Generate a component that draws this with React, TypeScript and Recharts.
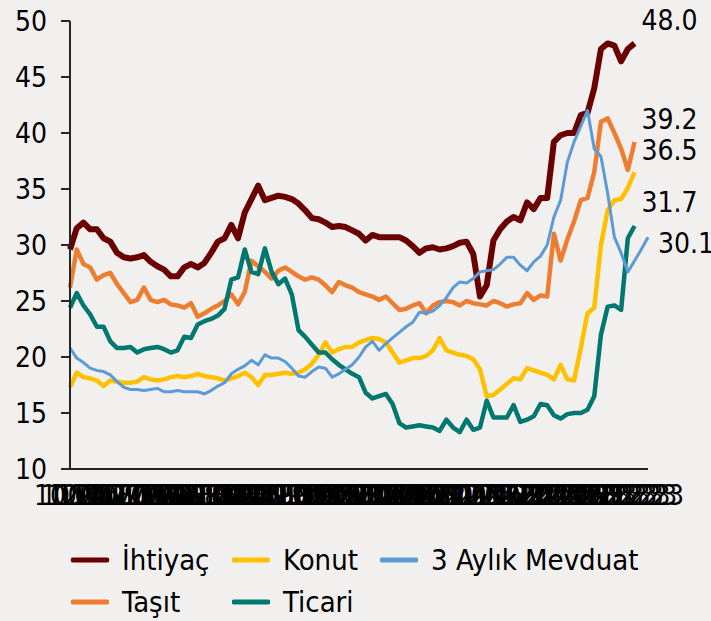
import { LineChart, Line, XAxis, YAxis, Legend, LabelList } from 'recharts';

const months = [
  '10.16', '11.16', '12.16',
  '01.17', '02.17', '03.17', '04.17', '05.17', '06.17', '07.17', '08.17', '09.17', '10.17', '11.17', '12.17',
  '01.18', '02.18', '03.18', '04.18', '05.18', '06.18', '07.18', '08.18', '09.18', '10.18', '11.18', '12.18',
  '01.19', '02.19', '03.19', '04.19', '05.19', '06.19', '07.19', '08.19', '09.19', '10.19', '11.19', '12.19',
  '01.20', '02.20', '03.20', '04.20', '05.20', '06.20', '07.20', '08.20', '09.20', '10.20', '11.20', '12.20',
  '01.21', '02.21', '03.21', '04.21', '05.21', '06.21', '07.21', '08.21', '09.21', '10.21', '11.21', '12.21',
  '01.22', '02.22', '03.22', '04.22', '05.22', '06.22', '07.22', '08.22', '09.22', '10.22', '11.22', '12.22',
  '01.23', '02.23', '03.23', '04.23', '05.23', '06.23', '07.23', '08.23', '09.23', '10.23', '11.23', '12.23',
];

const ihtiyac = [
  29.6, 31.5, 32.0, 31.4, 31.4, 30.6, 30.3, 29.3, 28.9, 28.8,
  28.9, 29.1, 28.5, 28.1, 27.8, 27.2, 27.2, 28.0, 28.3, 28.0,
  28.4, 29.3, 30.3, 30.6, 31.8, 30.6, 32.9, 34.1, 35.3, 34.0,
  34.2, 34.4, 34.3, 34.1, 33.7, 33.1, 32.4, 32.3, 32.0, 31.6,
  31.7, 31.6, 31.3, 31.0, 30.4, 30.9, 30.7, 30.7, 30.7, 30.7,
  30.4, 29.9, 29.3, 29.7, 29.8, 29.6, 29.7, 29.9, 30.2, 30.3,
  29.2, 25.4, 26.4, 30.4, 31.4, 32.1, 32.5, 32.2, 33.8, 33.2,
  34.2, 34.2, 39.2, 39.8, 40.0, 40.0, 41.6, 41.8, 44.0, 47.5,
  48.0, 47.8, 46.4, 47.5, 48.0,
];

const tasit = [
  26.2, 29.6, 28.3, 28.0, 26.9, 27.3, 27.5, 26.5, 25.7, 24.9,
  25.1, 26.2, 25.1, 24.9, 25.1, 24.7, 24.6, 24.4, 24.8, 23.6,
  23.9, 24.3, 24.6, 25.0, 25.6, 24.7, 25.8, 28.6, 28.1, 27.6,
  27.0, 27.7, 28.0, 27.6, 27.2, 26.9, 27.1, 26.9, 26.4, 25.8,
  26.7, 26.4, 26.2, 25.8, 25.6, 25.4, 25.1, 25.4, 24.8, 24.2,
  24.3, 24.6, 24.8, 23.9, 24.6, 24.9, 25.0, 24.9, 24.6, 25.0,
  24.8, 24.7, 24.6, 25.0, 24.8, 24.5, 24.7, 24.8, 25.7, 25.1,
  25.5, 25.4, 31.0, 28.6, 30.5, 32.1, 34.0, 34.2, 36.5, 41.0,
  41.3, 40.0, 38.6, 36.7, 39.2,
];

const konut = [
  17.3, 18.6, 18.2, 18.1, 17.9, 17.4, 17.9, 17.8, 17.7, 17.7,
  17.8, 18.2, 18.0, 17.9, 18.0, 18.2, 18.3, 18.2, 18.3, 18.5,
  18.3, 18.2, 18.1, 17.9, 18.1, 18.3, 18.6, 18.2, 17.5, 18.4,
  18.4, 18.5, 18.6, 18.5, 18.6, 18.9, 19.4, 20.2, 21.3, 20.4,
  20.7, 20.9, 20.9, 21.3, 21.5, 21.7, 21.6, 21.3, 20.4, 19.5,
  19.7, 19.9, 19.9, 20.1, 20.6, 21.7, 20.6, 20.4, 20.2, 20.1,
  19.8, 18.9, 16.5, 16.6, 17.1, 17.6, 18.1, 18.0, 19.0, 18.8,
  18.6, 18.4, 18.0, 19.3, 18.0, 17.9, 20.8, 23.9, 24.4, 30.0,
  33.1, 34.0, 34.1, 35.1, 36.5,
];

const ticari = [
  24.4, 25.7, 24.6, 23.8, 22.7, 22.7, 21.4, 20.8, 20.8, 20.9,
  20.4, 20.7, 20.8, 20.9, 20.7, 20.4, 20.6, 21.8, 21.7, 22.9,
  23.2, 23.4, 23.7, 24.3, 26.9, 27.1, 29.6, 27.6, 27.4, 29.7,
  27.6, 26.5, 27.0, 25.6, 22.4, 21.8, 21.1, 20.4, 20.4, 19.8,
  19.3, 18.9, 18.5, 18.2, 16.8, 16.3, 16.5, 16.7, 15.8, 14.1,
  13.7, 13.8, 13.9, 13.8, 13.7, 13.4, 14.4, 13.7, 13.3, 14.4,
  13.5, 13.7, 16.1, 14.6, 14.6, 14.6, 15.7, 14.2, 14.4, 14.7,
  15.8, 15.7, 14.8, 14.5, 14.9, 15.0, 15.0, 15.3, 16.5, 22.0,
  24.5, 24.6, 24.2, 30.6, 31.7,
];

const mevduat = [
  20.8, 19.9, 19.5, 19.0, 18.8, 18.7, 18.4, 17.8, 17.3, 17.1,
  17.1, 17.0, 17.1, 17.2, 16.9, 16.9, 17.0, 16.9, 16.9, 16.9,
  16.7, 17.0, 17.4, 17.7, 18.5, 18.9, 19.2, 19.7, 19.3, 20.2,
  19.9, 19.9, 19.6, 19.0, 18.3, 18.2, 18.7, 19.1, 19.0, 18.2,
  18.5, 18.9, 19.3, 20.0, 20.9, 21.4, 20.6, 21.2, 21.7, 22.2,
  22.7, 23.1, 24.0, 23.9, 24.1, 24.6, 25.3, 26.2, 26.7, 26.6,
  27.0, 27.6, 27.7, 27.8, 28.3, 28.9, 28.9, 28.2, 27.7, 28.5,
  29.0, 30.0, 32.5, 34.0, 37.4, 39.2, 40.6, 42.0, 38.6, 37.9,
  34.6, 30.7, 29.3, 27.6, 28.6, 29.6, 30.7,
];

const endLabels = ['48.0', '39.2', '36.5', '31.7', '30.1'];
const yTicks = [10, 15, 20, 25, 30, 35, 40, 45, 50];

const data = months.map((month, i) => ({
  month,
  ihtiyac: ihtiyac[i],
  tasit: tasit[i],
  konut: konut[i],
  ticari: ticari[i],
  mevduat: mevduat[i],
}));

const font = "'DejaVu Sans Condensed', 'DejaVu Sans', sans-serif";

// order here = legend order (column by column) and draw order
const series = [
  { key: 'ihtiyac', name: 'İhtiyaç', color: '#6B0000', width: 6, last: ihtiyac.length - 1, label: endLabels[0], dx: 7, dy: -23 },
  { key: 'tasit', name: 'Taşıt', color: '#ED7D31', width: 4.5, last: tasit.length - 1, label: endLabels[1], dx: 7, dy: -22 },
  { key: 'konut', name: 'Konut', color: '#FFC000', width: 4.5, last: konut.length - 1, label: endLabels[2], dx: 7, dy: -22 },
  { key: 'ticari', name: 'Ticari', color: '#00776F', width: 4.5, last: ticari.length - 1, label: endLabels[3], dx: 7, dy: -23 },
  { key: 'mevduat', name: '3 Aylık Mevduat', color: '#5B9BD5', width: 3, last: mevduat.length - 1, label: endLabels[4], dx: 10, dy: 6 },
];

const legendCols = [71, 232, 380];
const legendRows = [30, 72];

function LegendBox() {
  return (
    <div style={{ position: 'relative', width: 711, height: 90, fontFamily: font, fontSize: 29 }}>
      {series.map((s, i) => {
        const left = legendCols[Math.floor(i / 2)];
        const top = legendRows[i % 2];
        return (
          <div key={s.key} style={{ position: 'absolute', left, top: top - 18, height: 36, display: 'flex', alignItems: 'center', whiteSpace: 'nowrap' }}>
            <svg width={38} height={8} style={{ marginRight: 13 }}>
              <line x1={2} y1={4} x2={36} y2={4} stroke={s.color} strokeWidth={5} strokeLinecap="round" />
            </svg>
            <span style={{ color: '#000' }}>{s.name}</span>
          </div>
        );
      })}
    </div>
  );
}

export default function App() {
  return (
    <div style={{ width: 711, height: 621, background: '#F2F0EF' }}>
      <style>{'body{margin:0;background:#F2F0EF;}'}</style>
      <LineChart width={711} height={621} data={data} margin={{ top: 21, right: 63, left: 0, bottom: 112 }}>
        <XAxis
          dataKey="month"
          interval={0}
          tickLine={false}
          tickMargin={10}
          axisLine={{ stroke: '#262626', strokeWidth: 2 }}
          tick={{ fontSize: 28, fill: '#000', fontFamily: font }}
          height={40}
        />
        <YAxis
          domain={[10, 50]}
          ticks={yTicks}
          width={70}
          tickSize={9}
          tickMargin={14}
          axisLine={{ stroke: '#262626', strokeWidth: 2 }}
          tickLine={{ stroke: '#262626', strokeWidth: 2 }}
          tick={{ fontSize: 28, fill: '#000', fontFamily: font }}
        />
        <Legend
          verticalAlign="middle"
          align="center"
          content={() => <LegendBox />}
          wrapperStyle={{ position: 'absolute', top: 530, left: 0, width: 711 }}
        />
        {series.map((s) => (
          <Line
            key={s.key}
            type="linear"
            dataKey={s.key}
            name={s.name}
            stroke={s.color}
            strokeWidth={s.width}
            strokeLinejoin="round"
            dot={false}
            activeDot={false}
            isAnimationActive={false}
          >
            <LabelList
              dataKey={s.key}
              content={(p: any) =>
                p.index === s.last ? (
                  <text
                    x={Number(p.x) + s.dx}
                    y={Number(p.y) + s.dy}
                    dominantBaseline="central"
                    fontSize={28}
                    fontFamily={font}
                    fill="#000"
                  >
                    {s.label}
                  </text>
                ) : null
              }
            />
          </Line>
        ))}
      </LineChart>
    </div>
  );
}
